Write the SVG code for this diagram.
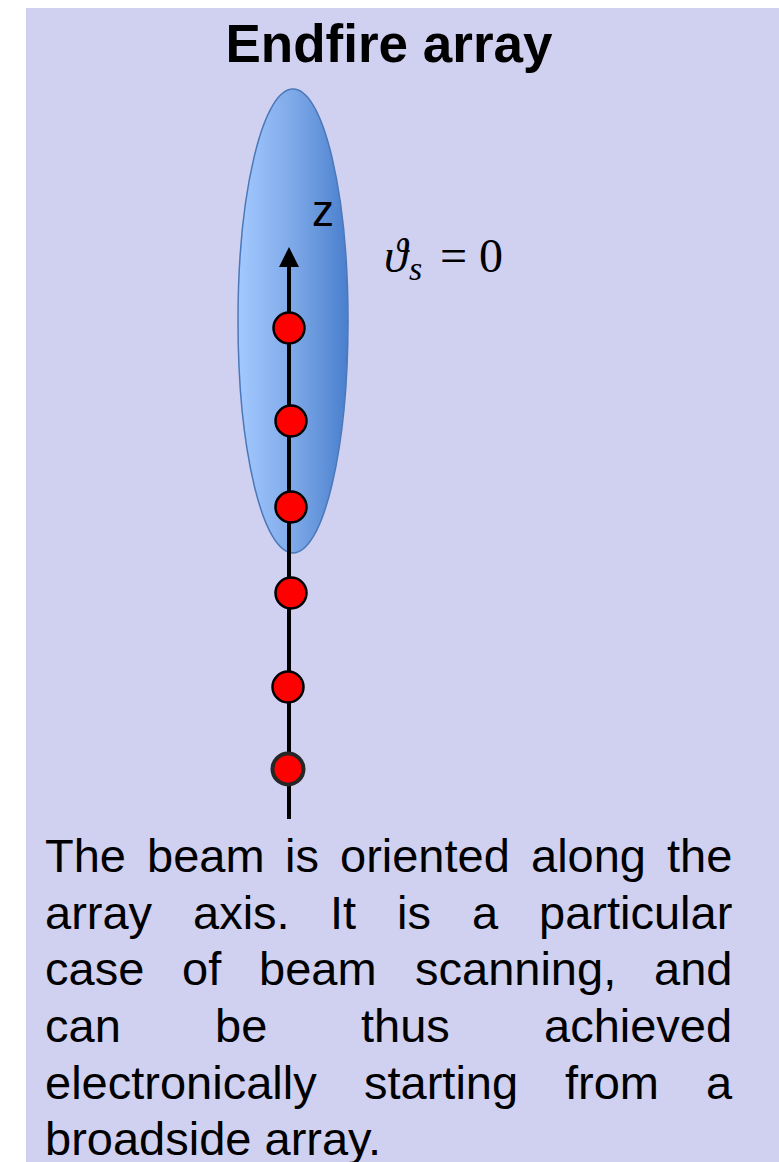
<svg xmlns="http://www.w3.org/2000/svg" width="779" height="1162" viewBox="0 0 779 1162">
<style>
.t{font-family:"Liberation Sans",Arial,sans-serif;font-size:47px;fill:#000}
.el{fill:#FF0000;stroke:#000;stroke-width:2.5}
</style>
<defs>
<linearGradient id="beam" x1="0" y1="0" x2="1" y2="0">
<stop offset="0" stop-color="#A4C9FF"/>
<stop offset="0.5" stop-color="#7EA9E8"/>
<stop offset="1" stop-color="#4A7FCD"/>
</linearGradient>
<marker id="arr" markerWidth="5" markerHeight="5" refX="4" refY="2.5" orient="auto" markerUnits="strokeWidth">
<path d="M0,0 L5,2.5 L0,5 Z" fill="#000"/>
</marker>
</defs>
<rect x="0" y="0" width="779" height="1162" fill="#fff"/>
<rect x="26" y="8" width="753" height="1154" fill="#D0D0F0"/>
<text x="389" y="62" text-anchor="middle" font-family="'Liberation Sans',Arial,sans-serif" font-weight="bold" font-size="53">Endfire array</text>
<g id="beam-lobe">
<ellipse cx="293" cy="321" rx="55" ry="232" fill="url(#beam)" stroke="#4A78B8" stroke-width="1.5"/>
</g>
<g id="connectors">
<line x1="289" y1="819" x2="289" y2="251" stroke="#000" stroke-width="4" marker-end="url(#arr)"/>
</g>
<g id="z-label"><text x="312" y="226" font-family="'Liberation Sans',Arial,sans-serif" font-size="44">z</text></g>
<g id="theta-label">
<text x="384" y="272" font-family="'Liberation Serif','DejaVu Serif',serif" font-size="48" font-style="italic">ϑ</text>
<text x="409" y="280" font-family="'Liberation Serif','DejaVu Serif',serif" font-size="34" font-style="italic">s</text>
<text x="440" y="272" font-family="'Liberation Serif','DejaVu Serif',serif" font-size="48">= 0</text>
</g>
<g id="element-1"><circle class="el" cx="289" cy="328" r="15.5"/></g>
<g id="element-2"><circle class="el" cx="291" cy="421" r="15.5"/></g>
<g id="element-3"><circle class="el" cx="291" cy="507" r="15.5"/></g>
<g id="element-4"><circle class="el" cx="291" cy="593" r="15.5"/></g>
<g id="element-5"><circle class="el" cx="288" cy="687" r="15.5"/></g>
<g id="element-6"><circle cx="288" cy="769" r="15.5" fill="#FF0000" stroke="#262626" stroke-width="4"/></g>
<g id="description">
<text class="t" y="872"><tspan x="45">The</tspan><tspan x="147">beam</tspan><tspan x="285">is</tspan><tspan x="340">oriented</tspan><tspan x="531">along</tspan><tspan x="667">the</tspan></text>
<text class="t" y="929"><tspan x="45">array</tspan><tspan x="193">axis.</tspan><tspan x="330">It</tspan><tspan x="397">is</tspan><tspan x="472">a</tspan><tspan x="539">particular</tspan></text>
<text class="t" y="985"><tspan x="45">case</tspan><tspan x="182">of</tspan><tspan x="259">beam</tspan><tspan x="415">scanning,</tspan><tspan x="654">and</tspan></text>
<text class="t" y="1042"><tspan x="45">can</tspan><tspan x="215">be</tspan><tspan x="361">thus</tspan><tspan x="544">achieved</tspan></text>
<text class="t" y="1099"><tspan x="45">electronically</tspan><tspan x="364">starting</tspan><tspan x="565">from</tspan><tspan x="706">a</tspan></text>
<text class="t" y="1155" x="45">broadside array.</text>
</g>
</svg>
